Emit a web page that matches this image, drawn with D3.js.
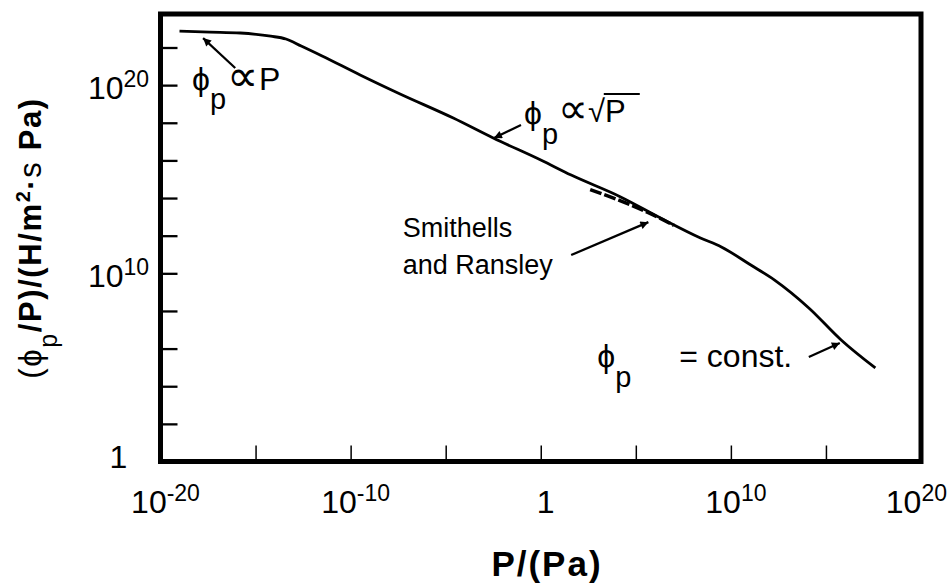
<!DOCTYPE html>
<html>
<head>
<meta charset="utf-8">
<script src="https://cdn.jsdelivr.net/npm/d3@7/dist/d3.min.js"></script>
<style>
  body { margin: 0; background: #fff; }
  svg { display: block; font-family: "Liberation Sans", Arial, Helvetica, sans-serif; }
</style>
</head>
<body>
<div id="chart"></div>
<script>
// curve, as log10 exponents
const pressureExp = [-19, -17.4, -15.8, -14.2, -13.4, -12.6, -11.5, -9.5, -7.4, -4.6, -2.5, 0, 1.6, 4.2, 6.3, 8.4, 9.5, 11.05, 12.3, 14.1, 15.8, 17.6];
const fluxExp = [22.87, 22.82, 22.77, 22.6, 22.45, 22.08, 21.55, 20.54, 19.53, 18.25, 17.19, 16.02, 15.22, 14.06, 12.94, 11.88, 11.4, 10.44, 9.64, 8.16, 6.46, 4.97];

// short Smithells and Ransley segment
const smithellsPressureExp = [2.6, 4.2, 5.6, 7.0];
const smithellsFluxExp = [14.45, 13.85, 13.25, 12.55];

// ticks
const xTickExp = [-15, -10, -5, 0, 5, 10, 15];
const yTickExp = [2, 4, 6, 8, 10, 12, 14, 16, 18, 20, 22];
const xLabelExp = [-20, -10, 0, 10, 20];
const yLabelExp = [0, 10, 20];

function init() {
  const width = 952, height = 587;
  const phi = "\u03D5";

  const svg = d3.select("#chart")
    .append("svg")
    .attr("width", width)
    .attr("height", height);

  svg.append("rect").attr("width", width).attr("height", height).attr("fill", "#fff");

  const x = d3.scaleLog().domain([1e-20, 1e20]).range([160.5, 921]);
  const y = d3.scaleLog().domain([1, Math.pow(10, 23.78)]).range([461.5, 14]);
  const p = e => Math.pow(10, e);

  // arrow head
  svg.append("defs").append("marker")
    .attr("id", "arrow")
    .attr("viewBox", "0 0 10 10")
    .attr("refX", 10)
    .attr("refY", 5)
    .attr("markerWidth", 14)
    .attr("markerHeight", 8)
    .attr("markerUnits", "userSpaceOnUse")
    .attr("orient", "auto")
    .append("path")
    .attr("d", "M0,0L10,5L0,10z")
    .attr("fill", "#000");

  // ticks (inward)
  const yAxis = svg.append("g")
    .attr("transform", `translate(${x.range()[0]},0)`)
    .call(d3.axisRight(y).tickValues(yTickExp.map(p)).tickSize(17).tickFormat(""));
  yAxis.select(".domain").remove();
  yAxis.selectAll("line").attr("stroke", "#000").attr("stroke-width", 2.3);

  const xAxis = svg.append("g")
    .attr("transform", `translate(0,${y.range()[0]})`)
    .call(d3.axisTop(x).tickValues(xTickExp.map(p)).tickSize(16).tickFormat(""));
  xAxis.select(".domain").remove();
  xAxis.selectAll("line").attr("stroke", "#000").attr("stroke-width", 1.5);

  // frame
  svg.append("rect")
    .attr("x", x.range()[0])
    .attr("y", y.range()[1])
    .attr("width", x.range()[1] - x.range()[0])
    .attr("height", y.range()[0] - y.range()[1])
    .attr("fill", "none")
    .attr("stroke", "#000")
    .attr("stroke-width", 5);

  // power of ten labels
  function powerLabel(text, e) {
    if (e === 0) {
      text.text("1");
      return;
    }
    text.append("tspan").text("10");
    text.append("tspan").attr("dy", -12).attr("font-size", 23).text(e);
  }

  yLabelExp.forEach(e => {
    const t = svg.append("text")
      .attr("x", x.range()[0] - 42)
      .attr("y", y(p(e)) + (e === 0 ? 6 : 14))
      .attr("text-anchor", "middle")
      .attr("font-size", 32);
    powerLabel(t, e);
  });

  xLabelExp.forEach(e => {
    const t = svg.append("text")
      .attr("x", x(p(e)) + 5)
      .attr("y", 513)
      .attr("text-anchor", "middle")
      .attr("font-size", 32);
    powerLabel(t, e);
    // keep the last label inside the picture
    const b = t.node().getBBox();
    if (b.x + b.width > width - 5) t.attr("x", x(p(e)) + 5 - (b.x + b.width - (width - 5)));
  });

  // axis titles
  svg.append("text")
    .attr("x", 547)
    .attr("y", 576)
    .attr("text-anchor", "middle")
    .attr("font-size", 35)
    .attr("font-weight", "bold")
    .attr("letter-spacing", 2)
    .text("P/(Pa)");

  const yTitle = svg.append("text")
    .attr("transform", "translate(41,238) rotate(-90)")
    .attr("text-anchor", "middle")
    .attr("font-size", 31)
    .attr("font-weight", "bold")
    .attr("letter-spacing", 1.6);
  yTitle.append("tspan").attr("font-weight", "normal").text("(" + phi);
  yTitle.append("tspan").attr("dy", 16).attr("font-size", 25).attr("font-weight", "normal").text("p");
  yTitle.append("tspan").attr("dy", -16).text("/P)/(H/m");
  yTitle.append("tspan").attr("dy", -11).attr("font-size", 20).text("2");
  yTitle.append("tspan").attr("dy", 11).text("·");
  yTitle.append("tspan").attr("font-weight", "normal").text("s ");
  yTitle.append("tspan").text("Pa)");

  // main curve
  const curve = pressureExp.map((e, i) => [p(e), p(fluxExp[i])]);
  const smithells = smithellsPressureExp.map((e, i) => [p(e), p(smithellsFluxExp[i])]);

  const line = d3.line()
    .x(d => x(d[0]))
    .y(d => y(d[1]))
    .curve(d3.curveMonotoneX);

  svg.append("path")
    .attr("d", line(curve))
    .attr("fill", "none")
    .attr("stroke", "#000")
    .attr("stroke-width", 2.8);

  svg.append("path")
    .attr("d", line(smithells))
    .attr("fill", "none")
    .attr("stroke", "#000")
    .attr("stroke-width", 3.5)
    .attr("stroke-dasharray", "12,3");

  // annotation arrows, in log10 coordinates
  const arrows = [
    { from: [-16.07, 20.91], to: [-17.76, 22.5] },
    { from: [-1.04, 17.88], to: [-2.46, 17.19] },
    { from: [1.6, 10.97], to: [5.66, 12.72] },
    { from: [14.1, 5.55], to: [15.73, 6.3] }
  ];
  svg.selectAll(".arrow")
    .data(arrows)
    .enter()
    .append("line")
    .attr("class", "arrow")
    .attr("x1", d => x(p(d.from[0])))
    .attr("y1", d => y(p(d.from[1])))
    .attr("x2", d => x(p(d.to[0])))
    .attr("y2", d => y(p(d.to[1])))
    .attr("stroke", "#000")
    .attr("stroke-width", 2.2)
    .attr("marker-end", "url(#arrow)");

  // annotation texts
  const t1 = svg.append("text")
    .attr("x", x(p(-18.34)))
    .attr("y", y(p(19.74)))
    .attr("font-size", 32);
  t1.append("tspan").text(phi);
  t1.append("tspan").attr("dy", 19).attr("font-size", 29).text("p");
  t1.append("tspan").attr("dy", -18).attr("dx", 1).attr("font-size", 44).text("∝");
  t1.append("tspan").attr("dy", -1).attr("dx", 1).text("P");

  const t2x = x(p(-0.88)), t2y = y(p(17.93));
  const t2 = svg.append("text")
    .attr("x", t2x)
    .attr("y", t2y)
    .attr("font-size", 32);
  t2.append("tspan").text(phi);
  t2.append("tspan").attr("dy", 20).attr("font-size", 29).text("p");
  t2.append("tspan").attr("dy", -21).attr("font-size", 42).text("∝");
  t2.append("tspan").attr("dy", -1).attr("font-size", 31).text("√P");

  // overbar of the root
  const t2box = t2.node().getBBox();
  svg.append("line")
    .attr("x1", t2box.x + t2box.width - 22)
    .attr("x2", t2box.x + t2box.width + 14)
    .attr("y1", t2y - 30)
    .attr("y2", t2y - 30)
    .attr("stroke", "#000")
    .attr("stroke-width", 2);

  const t3 = svg.append("text")
    .attr("x", x(p(-7.26)))
    .attr("y", y(p(11.93)))
    .attr("font-size", 27);
  t3.append("tspan").text("Smithells");
  t3.append("tspan").attr("x", x(p(-7.26))).attr("dy", 37).text("and Ransley");

  const t4 = svg.append("text")
    .attr("x", x(p(2.97)))
    .attr("y", y(p(5.02)))
    .attr("font-size", 32);
  t4.append("tspan").text(phi);
  t4.append("tspan").attr("dy", 20).attr("font-size", 29).text("p");
  t4.append("tspan").attr("dy", -20).attr("dx", 48).text("= const.");
}

window.onload = init;
</script>
</body>
</html>
